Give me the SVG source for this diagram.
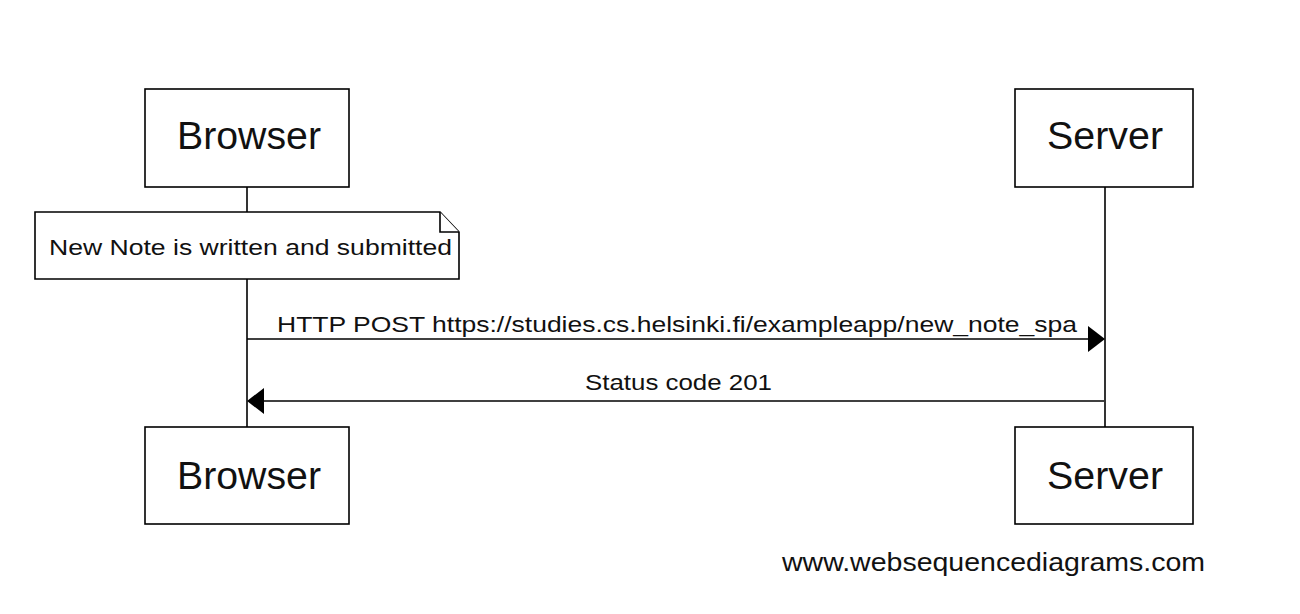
<svg xmlns="http://www.w3.org/2000/svg" width="1300" height="614" viewBox="0 0 1300 614">
<style>
.box{fill:#fff;stroke:#000;stroke-width:1.6}
.life{stroke:#000;stroke-width:1.6;fill:none}
.msg{stroke:#000;stroke-width:1.6;fill:none}
.title{font-family:"Liberation Sans",Arial,sans-serif;font-size:38px;fill:#111;text-anchor:middle}
.lbl{font-family:"Liberation Sans",Arial,sans-serif;font-size:22px;fill:#111}
</style>
<rect width="1300" height="614" fill="#fff"/>
<g id="lifelines">
<line class="life" x1="247" y1="187" x2="247" y2="212"/>
<line class="life" x1="247" y1="279" x2="247" y2="427"/>
<line class="life" x1="1105" y1="187" x2="1105" y2="427"/>
</g>
<g id="browser-top"><rect class="box" x="145" y="89" width="204" height="98"/><text class="title" x="249" y="149" textLength="144" lengthAdjust="spacingAndGlyphs">Browser</text></g>
<g id="server-top"><rect class="box" x="1015" y="89" width="178" height="98"/><text class="title" x="1105" y="149" textLength="116" lengthAdjust="spacingAndGlyphs">Server</text></g>
<g id="browser-bottom"><rect class="box" x="145" y="427" width="204" height="97"/><text class="title" x="249" y="489" textLength="144" lengthAdjust="spacingAndGlyphs">Browser</text></g>
<g id="server-bottom"><rect class="box" x="1015" y="427" width="178" height="97"/><text class="title" x="1105" y="489" textLength="116" lengthAdjust="spacingAndGlyphs">Server</text></g>
<g id="note">
<path class="box" d="M35,212 H440 L459,232 V279 H35 Z"/>
<path class="box" d="M440,212 V232 H459" fill="none"/>
<text class="lbl" x="49" y="255" textLength="403" lengthAdjust="spacingAndGlyphs">New Note is written and submitted</text>
</g>
<g id="connectors">
<line class="msg" x1="247" y1="339" x2="1090" y2="339"/>
<path d="M1088,326 L1105,339 L1088,352 Z" fill="#000"/>
<text class="lbl" x="277" y="332" textLength="800" lengthAdjust="spacingAndGlyphs">HTTP POST https://studies.cs.helsinki.fi/exampleapp/new_note_spa</text>
<line class="msg" x1="1104" y1="401" x2="262" y2="401"/>
<path d="M264,388 L247,401 L264,414 Z" fill="#000"/>
<text class="lbl" x="585" y="390" textLength="187" lengthAdjust="spacingAndGlyphs">Status code 201</text>
</g>
<text class="lbl" x="782" y="571" style="font-size:26px" textLength="423" lengthAdjust="spacingAndGlyphs">www.websequencediagrams.com</text>
</svg>
